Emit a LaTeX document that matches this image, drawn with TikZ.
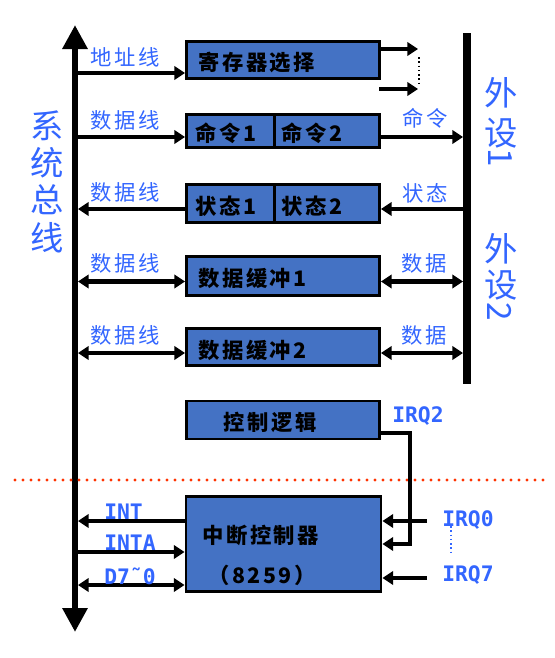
\documentclass[tikz,border=0pt]{standalone}
\usepackage{fontspec}
\usetikzlibrary{arrows.meta}
\newfontfamily\cjk[LetterSpace=12]{Noto Sans CJK SC}
\newfontfamily\cjkv{Noto Sans CJK SC}
\newfontfamily\monob{DejaVu Sans Mono}
\definecolor{boxblue}{RGB}{68,114,196}
\definecolor{lblue}{RGB}{51,102,255}
\definecolor{cutred}{RGB}{255,51,0}
\newdimen\pxu \pxu=0.75pt
\begin{document}
\begin{tikzpicture}[x=0.75pt,y=-0.75pt,
  box/.style={draw=black, line width=2.2pt, fill=boxblue, inner sep=0pt},
  conn/.style={line width=3.2pt, -{Triangle[length=8pt,width=10pt]}},
  bothconn/.style={line width=3.2pt, {Triangle[length=8pt,width=10pt]}-{Triangle[length=8pt,width=10pt]}},
  busline/.style={line width=4.5pt, {Triangle[length=18pt,width=18pt]}-{Triangle[length=18pt,width=18pt]}},
  boxtext/.style={font=\cjk\bfseries\fontsize{16}{18}\selectfont, text=black, inner sep=0pt},
  lbl/.style={font=\cjk\fontsize{16}{18}\selectfont, text=lblue, inner sep=0pt},
  sig/.style={font=\monob\bfseries\fontsize{16}{18}\selectfont, text=lblue, inner sep=0pt, anchor=west},
  big/.style={font=\cjkv\fontsize{25}{28}\selectfont, text=lblue, inner sep=0pt, align=center}]

\fill[white] (0,0) rectangle (555,658);
\useasboundingbox (0,0) rectangle (555,658);

% system bus and peripheral bus
\coordinate (busTop) at (75,25);
\coordinate (busBot) at (75,632);
\draw[busline] (busTop) -- (busBot);
\coordinate (barTop) at (467,33);
\coordinate (barBot) at (467,384);
\draw[line width=5.5pt] (barTop) -- (barBot);

% interface registers
\node[box, minimum width=193\pxu, minimum height=37\pxu] (reg) at (283,60) {};
\node[box, minimum width=88.2\pxu, minimum height=33.5\pxu] (cmd1) at (230.6,130.8) {};
\node[box, minimum width=104.8\pxu, minimum height=33.5\pxu] (cmd2) at (327.1,130.8) {};
\node[box, minimum width=88.2\pxu, minimum height=38.5\pxu] (st1) at (230.6,203.3) {};
\node[box, minimum width=104.8\pxu, minimum height=38.5\pxu] (st2) at (327.1,203.3) {};
\node[box, minimum width=193\pxu, minimum height=38.7\pxu] (buf1) at (283,275.8) {};
\node[box, minimum width=193\pxu, minimum height=37\pxu] (buf2) at (283,346.7) {};
\node[box, minimum width=193\pxu, minimum height=38\pxu] (ctl) at (283,420) {};
\node[box, minimum width=195\pxu, minimum height=95\pxu] (int) at (283.5,544) {};

% texts inside the boxes
\node[boxtext, anchor=west] (regT) at (198,62) {寄存器选择};
\node[boxtext] (cmd1T) at (226,133) {命令1};
\node[boxtext] (cmd2T) at (312,133) {命令2};
\node[boxtext] (st1T) at (226,206) {状态1};
\node[boxtext] (st2T) at (312,206) {状态2};
\node[boxtext, anchor=west] (buf1T) at (198,278) {数据缓冲1};
\node[boxtext, anchor=west] (buf2T) at (198,350) {数据缓冲2};
\node[boxtext] (ctlT) at (270,422) {控制逻辑};
\node[boxtext, anchor=west] (intT) at (202,535) {中断控制器};
\node[boxtext] (intN) at (262,575) {（8259）};

% bus side connectors
\coordinate (aL) at (78,73);
\coordinate (cL) at (78,137);
\coordinate (sL) at (78,209);
\coordinate (b1L) at (78,281.5);
\coordinate (b2L) at (78,353);
\draw[conn] (aL) -- (aL -| reg.west);
\draw[conn] (cL) -- (cL -| cmd1.west);
\draw[conn] (st1.west |- sL) -- (sL);
\draw[bothconn] (b1L) -- (b1L -| buf1.west);
\draw[bothconn] (b2L) -- (b2L -| buf2.west);

\node[lbl] (aLbl) at (125,57) {地址线};
\node[lbl] (cLbl) at (125,120) {数据线};
\node[lbl] (sLbl) at (125,192) {数据线};
\node[lbl] (b1Lbl) at (125,263) {数据线};
\node[lbl] (b2Lbl) at (125,335) {数据线};

% peripheral side connectors
\coordinate (rs1) at (418,49);
\coordinate (rs2a) at (379,89);
\coordinate (rs2) at (418,89);
\draw[conn] (reg.east |- rs1) -- (rs1);
\draw[conn] (rs2a) -- (rs2);
\coordinate (dotTop) at (419,57);
\coordinate (dotBot) at (419,86);
\draw[line width=1.2pt, dotted] (dotTop) -- (dotBot);

\coordinate (cR) at (463,137);
\coordinate (sR) at (463,209);
\coordinate (b1R) at (463,281.5);
\coordinate (b2R) at (463,353);
\draw[conn] (cmd2.east |- cR) -- (cR);
\draw[conn] (sR) -- (sR -| st2.east);
\draw[bothconn] (buf1.east |- b1R) -- (b1R);
\draw[bothconn] (buf2.east |- b2R) -- (b2R);

\node[lbl] (cRl) at (425,118) {命令};
\node[lbl] (sRl) at (425,193) {状态};
\node[lbl] (b1Rl) at (424,263) {数据};
\node[lbl] (b2Rl) at (424,335) {数据};

% vertical captions
\node[big] (sysbus) at (47,181.5) {系\\统\\总\\线};
\node[big] (p1a) at (501,93) {外};
\node[big] (p1b) at (501,133) {设};
\node[big] (p1c) at (500,158) {\rotatebox{-90}{1}};
\node[big] (p2a) at (501,249) {外};
\node[big] (p2b) at (501,285) {设};
\node[big] (p2c) at (500,312) {\rotatebox{-90}{2}};

% boundary between interface and interrupt logic
\coordinate (cutL) at (15,480);
\coordinate (cutR) at (545,480);
\draw[cutred, line width=2.5pt, line cap=round, dash pattern=on 0pt off 6pt] (cutL) -- (cutR);

% interrupt requests
\coordinate (q2a) at (410,433);
\coordinate (q2b) at (410,544);
\draw[conn, line join=miter] (ctl.east |- q2a) -- (q2a) -- (q2b) -- (q2b -| int.east);
\coordinate (q0) at (427,521);
\coordinate (q7) at (427,578);
\draw[conn] (q0) -- (q0 -| int.east);
\draw[conn] (q7) -- (q7 -| int.east);
\coordinate (qdTop) at (451,526);
\coordinate (qdBot) at (451,554);
\draw[lblue, line width=1.2pt, dotted] (qdTop) -- (qdBot);

\node[sig] (irq2) at (392,416) {IRQ2};
\node[sig] (irq0) at (442,520) {IRQ0};
\node[sig] (irq7) at (442,575) {IRQ7};

% controller to system bus
\coordinate (iL) at (78,521);
\coordinate (iaL) at (78,552);
\coordinate (dL) at (78,585);
\draw[conn] (int.west |- iL) -- (iL);
\draw[conn] (iaL) -- (iaL -| int.west);
\draw[bothconn] (dL) -- (dL -| int.west);

\node[sig] (intL) at (104,512) {INT};
\node[sig] (intaL) at (104,543) {INTA};
\node[sig] (dLbl) at (104,576) {D7˜0};
\end{tikzpicture}
\end{document}
